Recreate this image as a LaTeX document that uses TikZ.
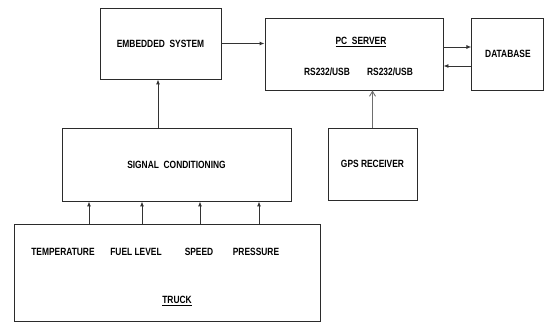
\documentclass[tikz,border=0pt]{standalone}
\usepackage{fontspec}
\setmainfont{Liberation Sans}[FakeStretch=0.8]
\usepackage{tikz}
\usetikzlibrary{arrows.meta,positioning,calc}
\definecolor{blockLine}{HTML}{2B2B2B}
\definecolor{linkLine}{HTML}{333333}
\definecolor{gpsLine}{HTML}{6E6E6E}
\tikzset{
  blockbox/.style={draw=blockLine, line width=0.9pt, fill=white, align=center, inner sep=0pt, font=\fontsize{10.5}{12}\selectfont\bfseries},
  blocklabel/.style={inner sep=0pt, font=\fontsize{10.5}{12}\selectfont\bfseries},
  linkarrow/.style={-{Latex[length=5pt,width=4pt]}, line width=0.9pt, draw=linkLine},
  openarrow/.style={-{Straight Barb[length=5pt,width=6pt]}, line width=0.9pt, draw=gpsLine}
}
\begin{document}
\begin{tikzpicture}[x=1pt,y=-1pt]
  \useasboundingbox (0,0) rectangle (544,323);
  \node[blockbox, minimum width=121pt, minimum height=71pt] (emb) at (160.5,43.5) {EMBEDDED\ \ SYSTEM};
  \node[blockbox, minimum width=178pt, minimum height=72pt] (pc) at (354,54) {};
  \node[blockbox, minimum width=72pt, minimum height=72pt, right=28pt of pc] (db) {DATABASE};
  \node[blocklabel] (pctitle) at (361,42) {\underline{PC\ \ SERVER}};
  \node[blocklabel] (portA) at (327,72) {RS232/USB};
  \node[blocklabel] (portB) at (390,72) {RS232/USB};
  \node[blockbox, minimum width=229pt, minimum height=73pt] (cond) at (176.5,164.5) {SIGNAL\ \ CONDITIONING};
  \node[blockbox, minimum width=89pt, minimum height=72pt] (gps) at (372.5,164) {GPS RECEIVER};
  \node[blockbox, minimum width=306pt, minimum height=97pt] (truck) at (167,272.5) {};
  \node[blocklabel] (temp) at (63,252) {TEMPERATURE};
  \node[blocklabel] (fuel) at (136,252) {FUEL LEVEL};
  \node[blocklabel] (speed) at (199,252) {SPEED};
  \node[blocklabel] (press) at (256,252) {PRESSURE};
  \node[blocklabel] (trucktitle) at (177,301) {\underline{TRUCK}};
  % sensor lines up to the conditioning block
  \foreach \sx in {89,142,200,259}
    \draw[linkarrow] (truck.north -| \sx,0) -- (cond.south -| \sx,0);
  \draw[linkarrow] (cond.north -| 158,0) -- (emb.south -| 158,0);
  \draw[linkarrow] (emb.east) -- (pc.west |- emb.east);
  \draw[linkarrow] ([yshift=7pt]pc.east) -- ([yshift=7pt]db.west);
  \draw[linkarrow] ([yshift=-12pt]db.west) -- ([yshift=-12pt]pc.east);
  \draw[openarrow] (gps.north) -- (pc.south -| gps.north);
\end{tikzpicture}
\end{document}
